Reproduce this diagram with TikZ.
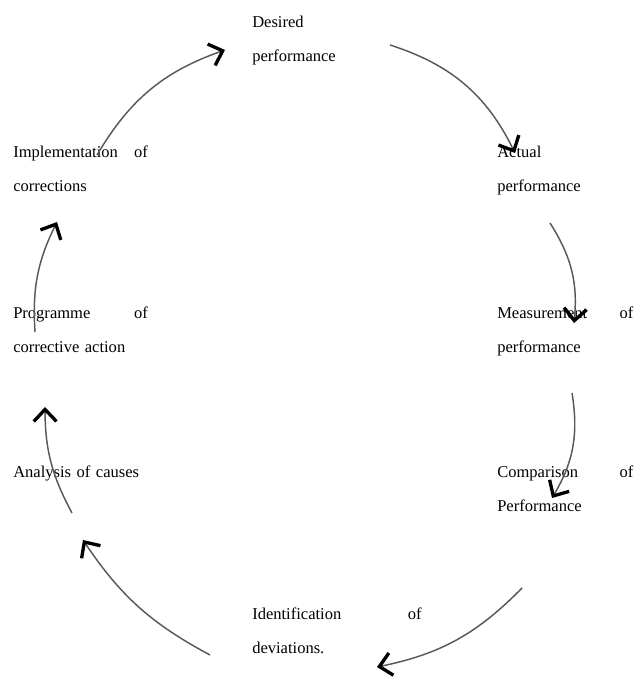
\documentclass[tikz,border=0pt]{standalone}
\usepackage{fontspec}
\setmainfont{Liberation Serif}
\usetikzlibrary{arrows.meta}

\begin{document}
\begin{tikzpicture}[x=0.75pt, y=0.75pt,
	lbl/.style={anchor=base west, inner sep=0pt, align=left, text width=#1,
		font=\fontsize{12.4}{25}\selectfont},
	lbl/.default=102pt,
	pfeil/.style={draw=black!65, line width=1.1pt,
		-{Straight Barb[color=black, length=9pt, width=17pt, line width=2.5pt]}}]
	% Bildbereich
	\useasboundingbox (0,0) rectangle (633,677);
	% Stationen beschriften
	\node[lbl=80pt]    (desired)   at (252,649) {Desired\\performance};
	\node[lbl]         (actual)    at (497,519) {Actual\\performance};
	\node[lbl]         (measure)   at (497,358) {Measurement \hfill of\\performance};
	\node[lbl]         (compare)   at (497,199) {Comparison \hfill of\\Performance};
	\node[lbl=127pt]   (identify)  at (252,57)  {Identification \hfill of\\deviations.};
	\node[lbl=130pt]   (analysis)  at (13,199)  {Analysis of causes};
	\node[lbl=101pt]   (programme) at (13,358)  {Programme \hfill of\\corrective action};
	\node[lbl=101pt]   (implement) at (13,519)  {Implementation \hfill of\\corrections};
	% Anfangs- und Endpunkte der Pfeile
	\coordinate (s1) at (97,522);  \coordinate (e1) at (225,627);
	\coordinate (s2) at (390,632); \coordinate (e2) at (515,524);
	\coordinate (s3) at (550,454); \coordinate (e3) at (574,354);
	\coordinate (s4) at (572,284); \coordinate (e4) at (552,179);
	\coordinate (s5) at (522,89);  \coordinate (e5) at (377,10);
	\coordinate (s6) at (210,22);  \coordinate (e6) at (83,137);
	\coordinate (s7) at (72,164);  \coordinate (e7) at (45,270);
	\coordinate (s8) at (35,345);  \coordinate (e8) at (57,455);
	% Kreislauf zeichnen
	\foreach \s/\e/\b in {s1/e1/20, s2/e2/23, s3/e3/19, s4/e4/20,
		s5/e5/17, s6/e6/14, s7/e7/14, s8/e8/15}
		\draw[pfeil] (\s) to[bend left=\b] (\e);
\end{tikzpicture}
\end{document}
